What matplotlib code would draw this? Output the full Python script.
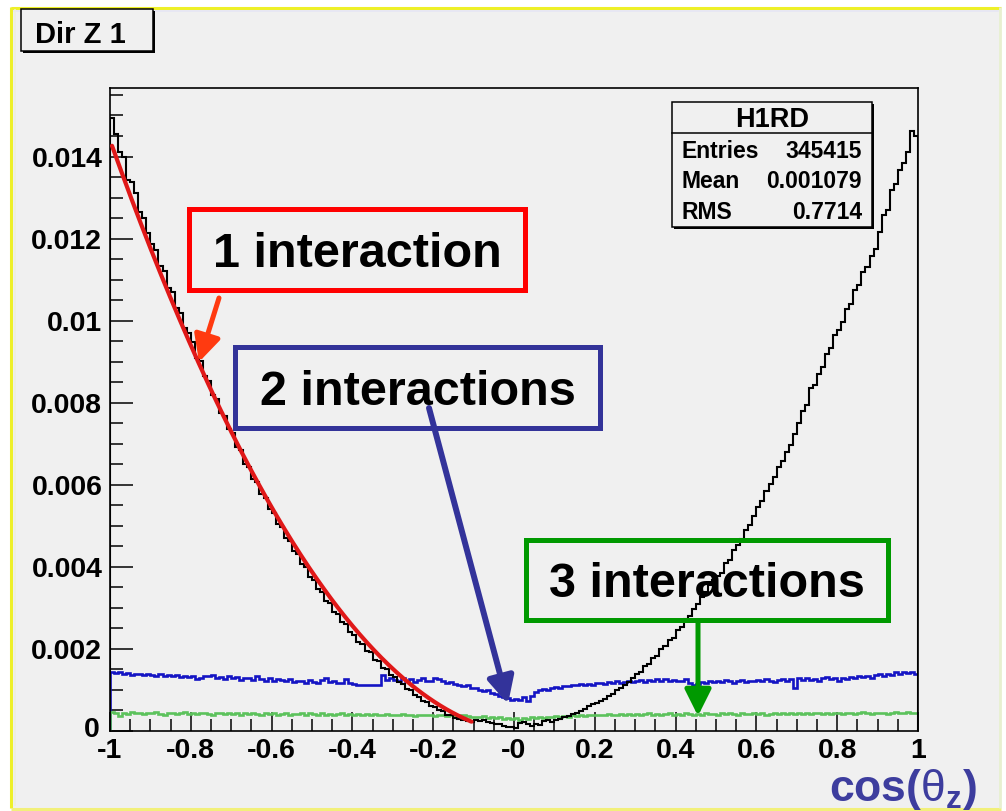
import numpy as np
import matplotlib
matplotlib.use("Agg")
import matplotlib.pyplot as plt
from matplotlib.patches import Rectangle
from matplotlib.ticker import MultipleLocator
from matplotlib.transforms import ScaledTranslation

plt.rcParams['font.family'] = ['Liberation Sans', 'DejaVu Sans']
plt.rcParams['mathtext.fontset'] = 'custom'
plt.rcParams['mathtext.rm'] = 'Liberation Sans:bold'
plt.rcParams['mathtext.bf'] = 'Liberation Sans:bold'
plt.rcParams['mathtext.it'] = 'Liberation Sans'

# ---- data (bin contents in units of 1e-4) ----
UNIT = 1e-4
n_bins = 200
x_range = (-1.0, 1.0)

# all events (H1RD)
h1rd = [
    149.3, 145.6, 141.0, 139.9, 134.2, 133.8, 131.1, 126.4, 125.0, 121.3,
    118.6, 117.3, 113.2, 112.1, 108.0, 106.9, 103.1, 101.9, 98.2, 97.0,
    94.8, 91.0, 90.1, 86.5, 85.3, 82.0, 80.9, 77.6, 76.8, 73.5,
    72.6, 69.2, 68.4, 65.1, 64.3, 61.5, 60.6, 57.7, 56.9, 54.0,
    53.1, 50.4, 49.8, 47.0, 46.3, 43.8, 43.1, 40.6, 39.9, 37.6,
    36.9, 34.6, 33.9, 31.8, 31.2, 29.1, 28.6, 26.5, 26.0, 24.1,
    23.5, 21.8, 21.3, 19.5, 19.2, 17.4, 17.0, 15.4, 15.0, 13.6,
    13.2, 11.9, 11.5, 10.3, 9.9, 8.7, 8.4, 7.3, 7.1, 6.1,
    5.9, 5.0, 4.8, 4.0, 3.8, 3.2, 3.0, 2.6, 2.5, 2.3,
    2.6, 2.4, 2.7, 2.3, 2.0, 1.8, 1.6, 1.2, 1.0, 0.9,
    0.8, 1.9, 2.1, 1.7, 1.3, 1.6, 1.5, 2.4, 2.6, 2.2,
    2.7, 3.0, 3.3, 3.6, 4.2, 4.4, 4.9, 5.4, 6.0, 6.5,
    6.9, 7.4, 7.9, 8.6, 9.0, 9.9, 10.4, 11.3, 12.0, 12.8,
    13.9, 14.4, 15.8, 16.3, 17.9, 18.2, 19.9, 20.6, 22.1, 22.7,
    24.5, 25.4, 27.2, 28.0, 29.8, 30.9, 32.6, 33.8, 35.6, 36.9,
    37.8, 38.5, 40.9, 41.6, 44.0, 45.3, 46.9, 48.9, 50.3, 52.4,
    54.6, 56.0, 58.4, 60.2, 61.8, 64.3, 65.9, 68.1, 69.8, 72.4,
    75.0, 77.9, 79.5, 83.6, 84.2, 87.1, 88.6, 91.8, 93.4, 96.5,
    97.8, 99.6, 102.9, 104.1, 107.5, 108.8, 111.9, 113.0, 115.8, 117.4,
    121.5, 125.8, 127.0, 131.9, 133.4, 136.8, 138.5, 141.2, 146.3, 145.1,
]

# events with 2 interactions
two_int = [
    14.4, 14.2, 14.3, 13.9, 14.1, 13.7, 13.8, 14.0, 13.6, 13.9,
    13.7, 13.5, 13.8, 13.4, 13.6, 13.3, 13.7, 13.2, 13.5, 13.1,
    13.4, 12.6, 12.8, 13.5, 13.3, 13.6, 13.0, 13.2, 12.7, 13.3,
    12.9, 13.1, 12.5, 12.8, 13.0, 12.4, 13.4, 12.6, 12.3, 12.9,
    12.2, 12.7, 12.5, 12.1, 12.6, 11.9, 12.3, 12.2, 11.8, 12.4,
    12.0, 11.7, 12.5, 13.0, 11.9, 12.1, 11.6, 11.8, 12.6, 11.7,
    11.4, 11.2, 11.3, 11.2, 11.3, 11.2, 11.3, 13.6, 12.4, 12.8,
    12.5, 12.1, 12.9, 12.3, 12.6, 12.0, 12.4, 12.8, 12.2, 12.3,
    12.9, 12.6, 12.1, 11.8, 11.9, 11.4, 11.2, 10.9, 11.3, 10.6,
    10.4, 10.1, 9.7, 9.9, 9.3, 9.0, 8.6, 8.2, 8.0, 7.6,
    7.8, 7.5, 8.3, 7.4, 8.5, 9.6, 9.9, 10.2, 10.0, 10.5,
    10.7, 10.6, 11.0, 10.9, 11.2, 11.1, 11.4, 11.3, 11.5, 11.2,
    11.6, 11.8, 11.5, 11.9, 11.7, 12.1, 11.8, 12.0, 12.3, 11.9,
    12.2, 12.5, 12.0, 12.4, 12.1, 12.6, 12.3, 12.7, 12.2, 12.5,
    12.3, 12.1, 12.6, 11.7, 11.2, 11.5, 12.0, 11.6, 12.2, 11.9,
    12.3, 12.0, 12.5, 12.2, 11.8, 12.1, 12.4, 12.0, 12.3, 12.1,
    12.5, 12.2, 12.6, 12.3, 12.0, 12.4, 12.7, 12.3, 12.6, 10.5,
    12.8, 12.5, 12.9, 12.4, 12.7, 12.2, 12.9, 13.1, 12.6, 12.8,
    12.3, 13.0, 12.7, 13.2, 12.9, 13.4, 13.1, 13.5, 12.8, 13.6,
    13.8, 13.5, 14.0, 13.7, 14.3, 14.0, 14.5, 14.2, 14.4, 14.0,
]

# events with 3 interactions
three_int = [
    4.7, 4.5, 3.6, 4.4, 4.2, 4.6, 4.3, 4.5, 4.1, 4.4,
    4.3, 4.6, 4.2, 4.0, 4.4, 4.5, 4.1, 4.3, 4.6, 4.2,
    4.4, 4.1, 4.3, 4.5, 4.2, 4.0, 4.4, 4.3, 4.1, 4.5,
    4.2, 4.4, 4.0, 4.3, 4.1, 4.5, 4.2, 3.9, 4.3, 4.1,
    4.4, 4.0, 4.2, 4.3, 3.9, 4.2, 4.1, 4.4, 4.0, 4.3,
    4.1, 3.9, 4.3, 4.0, 4.2, 3.8, 4.1, 4.4, 4.0, 4.2,
    3.9, 4.1, 4.0, 4.2, 3.8, 4.1, 3.9, 4.0, 4.2, 3.8,
    4.0, 3.9, 4.1, 3.8, 4.0, 3.7, 3.9, 4.0, 3.8, 3.9,
    3.7, 3.9, 3.8, 3.6, 3.9, 3.7, 3.5, 3.8, 3.6, 3.4,
    3.5, 3.3, 3.6, 3.2, 3.4, 3.1, 3.3, 3.0, 3.2, 2.9,
    3.1, 2.8, 3.2, 3.0, 3.3, 3.1, 3.4, 3.2, 3.5, 3.3,
    3.6, 3.4, 3.7, 3.5, 3.8, 3.6, 3.9, 3.7, 3.8, 4.0,
    3.8, 4.0, 3.9, 4.1, 3.8, 4.0, 4.2, 3.9, 4.1, 4.0,
    4.2, 3.9, 4.1, 4.3, 4.0, 4.2, 3.9, 4.1, 4.3, 4.0,
    4.2, 4.0, 4.3, 4.1, 3.9, 4.2, 4.0, 4.3, 4.1, 4.2,
    4.0, 4.3, 4.1, 4.4, 4.2, 4.0, 4.3, 4.1, 4.2, 4.4,
    4.1, 4.3, 4.0, 4.2, 4.4, 4.1, 4.3, 4.2, 4.5, 4.1,
    4.3, 4.2, 4.4, 4.1, 4.3, 4.5, 4.2, 4.4, 4.1, 4.3,
    4.4, 4.2, 4.5, 4.3, 4.1, 4.4, 4.6, 4.3, 4.2, 4.5,
    4.3, 4.5, 4.2, 4.4, 4.6, 4.3, 4.5, 4.7, 4.4, 4.5,
]

# pol2 fit to the single-interaction region: p0 + p1*x + p2*x^2
fit_params = [-0.5e-4, -12.6e-4, 131.9e-4]
fit_range = (-0.995, -0.105)

x_ticks = [-1.0, -0.8, -0.6, -0.4, -0.2, 0.0, 0.2, 0.4, 0.6, 0.8, 1.0]
x_tick_labels = ['-1', '-0.8', '-0.6', '-0.4', '-0.2', '-0', '0.2', '0.4', '0.6', '0.8', '1']
y_ticks = [0.0, 0.002, 0.004, 0.006, 0.008, 0.010, 0.012, 0.014]
y_tick_labels = ['0', '0.002', '0.004', '0.006', '0.008', '0.01', '0.012', '0.014']
y_max = 0.01567

title = 'Dir Z 1'
stats_name = 'H1RD'
stats_rows = [('Entries', '345415'), ('Mean', '0.001079'), ('RMS', '0.7714')]
labels = ['1 interaction', '2 interactions', '3 interactions']

# ---- figure ----
W, H = 1006, 811
fig = plt.figure(figsize=(W / 100, H / 100), dpi=100, facecolor='white')

# canvas panel (pixel coordinates, y down)
bg = fig.add_axes([0, 0, 1, 1], zorder=0)
bg.set_xlim(0, W)
bg.set_ylim(H, 0)
bg.axis('off')
bg.add_patch(Rectangle((11, 7), 990, 801, facecolor='#f0f0f0', edgecolor='none'))
bg.plot([11, 1001], [7.5, 7.5], color='#eef028', lw=2.2, solid_capstyle='butt')
bg.plot([11.5, 11.5], [7, 808], color='#eef028', lw=2.2, solid_capstyle='butt')
bg.plot([11, 1001], [808.5, 808.5], color='#f2f07a', lw=2.2, solid_capstyle='butt')
bg.plot([1000.5, 1000.5], [7, 808], color='#e8f0d0', lw=2.0, solid_capstyle='butt')
bg.plot([14, 998], [11, 11], color='#e6e6f4', lw=1.2)
bg.plot([15, 15], [10, 805], color='#eeeedd', lw=1.2)

# main histogram frame
ax = fig.add_axes([110 / W, 1 - 731 / H, 808 / W, 643 / H], zorder=1)
ax.set_facecolor('#f0f0f0')
edges = np.linspace(x_range[0], x_range[1], n_bins + 1)

ax.stairs(np.array(two_int) * UNIT, edges, color='#1414c4', lw=1.9, zorder=2)
ax.stairs(np.array(three_int) * UNIT, edges, color='#5cc25c', lw=1.9, zorder=2)
ax.stairs(np.array(h1rd) * UNIT, edges, color='black', lw=1.5, zorder=3)

xf = np.linspace(fit_range[0], fit_range[1], 300)
yf = np.polyval(fit_params[::-1], xf)
ax.plot(xf, yf, color='#e01818', lw=3.0, zorder=4, solid_capstyle='round')

ax.set_xlim(*x_range)
ax.set_ylim(0, y_max)
ax.set_xticks(x_ticks)
ax.set_xticklabels(x_tick_labels)
ax.set_yticks(y_ticks)
ax.set_yticklabels(y_tick_labels)
ax.xaxis.set_minor_locator(MultipleLocator(0.05))
ax.yaxis.set_minor_locator(MultipleLocator(0.0005))
ax.tick_params(which='both', direction='in', top=False, right=False, width=1.1, color='black')
ax.tick_params(axis='y', which='major', length=16.5, pad=5.5)
ax.tick_params(axis='x', which='major', length=14, pad=5.0)
ax.tick_params(which='minor', length=9)
for lab in ax.get_xticklabels() + ax.get_yticklabels():
    lab.set_fontsize(20.5)
    lab.set_fontweight('bold')
# lift the zero label of the y axis a little, clear of the "-1" below it
zero_lab = ax.get_yticklabels()[0]
zero_lab.set_transform(zero_lab.get_transform() +
                       ScaledTranslation(-2 / 72, 3 / 72, fig.dpi_scale_trans))
for sp in ax.spines.values():
    sp.set_linewidth(1.2)
    sp.set_color('black')

# overlay for boxes, arrows and labels (pixel coordinates, y down)
ov = fig.add_axes([0, 0, 1, 1], zorder=5)
ov.set_xlim(0, W)
ov.set_ylim(H, 0)
ov.axis('off')

# title pave with shadow
ov.add_patch(Rectangle((23, 11), 132, 42, facecolor='black', edgecolor='none'))
ov.add_patch(Rectangle((21, 9), 132, 42, facecolor='#f0f0f0', edgecolor='black', lw=1.1))
ov.text(35, 43, title, fontsize=21, fontweight='bold', ha='left', va='baseline', color='black')

# statistics box with shadow
ov.add_patch(Rectangle((674, 104), 200, 125, facecolor='black', edgecolor='none'))
ov.add_patch(Rectangle((672, 102), 200, 125, facecolor='#f0f0f0', edgecolor='black', lw=1.1))
ov.plot([672, 872], [133, 133], color='black', lw=1.1)
ov.text(772, 127, stats_name, fontsize=19.5, fontweight='bold', ha='center', va='baseline')
for (name, val), yb in zip(stats_rows, [158, 188, 219]):
    ov.text(682, yb, name, fontsize=16.5, fontweight='bold', ha='left', va='baseline')
    ov.text(862, yb, val, fontsize=16.5, fontweight='bold', ha='right', va='baseline')

# annotation boxes
box_specs = [
    (labels[0], (189, 209, 336, 81), '#ff0000', 267),
    (labels[1], (235, 347, 365, 81), '#333399', 405),
    (labels[2], (526, 540, 362, 80), '#009900', 597),
]
for text, (bx, by, bw, bh), col, base in box_specs:
    ov.add_patch(Rectangle((bx, by), bw, bh, fill=False, edgecolor=col, lw=3.6))
    ov.text(bx + bw / 2, base, text, fontsize=35, fontweight='bold',
            ha='center', va='baseline', color='black')

arrow_specs = [
    ((219, 298), (199, 362), '#ff3a10', 3.6),
    ((429, 408), (508, 704), '#33339a', 4.3),
    ((698, 622), (698, 716), '#009900', 3.6),
]
for tail, tip, col, lw in arrow_specs:
    ov.annotate('', xy=tip, xytext=tail,
                arrowprops=dict(arrowstyle='-|>,head_length=0.8,head_width=0.4',
                                mutation_scale=20, lw=lw, color=col,
                                shrinkA=0, shrinkB=0))

# axis title
ov.text(977, 801, r'cos($\theta_\mathbf{z}$)', fontsize=32, fontweight='bold',
        ha='right', va='baseline', color='#3d3d9e')

fig.savefig('out.png', dpi=100, facecolor='white')
